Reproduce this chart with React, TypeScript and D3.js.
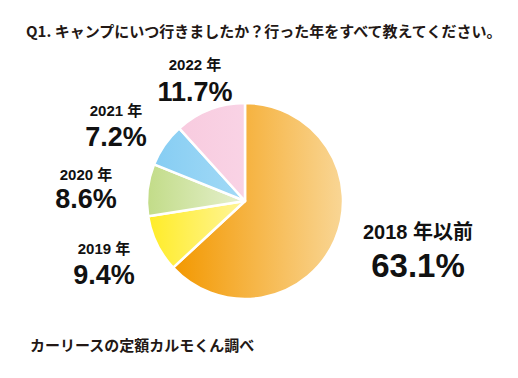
import React from "react";
import * as d3 from "d3";

const categories = ["2018 年以前", "2019 年", "2020 年", "2021 年", "2022 年"];
const values = [63.1, 9.4, 8.6, 7.2, 11.7];
const valueLabels = ["63.1%", "9.4%", "8.6%", "7.2%", "11.7%"];
const gradStops = [
  ["#f39800", "#f9d695"],
  ["#ffec27", "#fff59a"],
  ["#c2dc88", "#e6f0cf"],
  ["#86cdf3", "#a3daf6"],
  ["#f8cbdf", "#f9d3e5"],
];
const title = "Q1. キャンプにいつ行きましたか？行った年をすべて教えてください。";
const source = "カーリースの定額カルモくん調べ";

// label anchor positions (center x, year baseline, value baseline, sizes)
const labelPos = [
  { x: 418, y1: 239, y2: 277, s1: 20, s2: 33 },
  { x: 104, y1: 254, y2: 284, s1: 15, s2: 27 },
  { x: 86, y1: 180, y2: 208, s1: 15, s2: 27 },
  { x: 116, y1: 116, y2: 146, s1: 15, s2: 27 },
  { x: 195, y1: 70, y2: 101, s1: 15, s2: 27 },
];

export default function App() {
  const W = 518, H = 378;
  const cx = 245, cy = 201, r = 98;
  const pie = d3.pie<number>().sort(null).value((d) => d)(values);
  const arc = d3.arc<d3.PieArcDatum<number>>().innerRadius(0).outerRadius(r);
  const numFont = "'Liberation Sans', Arial, 'Noto Sans CJK JP', sans-serif";
  const jpFont = "'Noto Sans CJK JP', sans-serif";
  return (
    <svg width={W} height={H} style={{ position: "absolute", left: 0, top: 0, background: "#fff" }}>
      <defs>
        {gradStops.map((g, i) => (
          <linearGradient key={i} id={`g${i}`} x1="0" y1="0" x2="1" y2="0">
            <stop offset="0" stopColor={g[0]} />
            <stop offset="1" stopColor={g[1]} />
          </linearGradient>
        ))}
      </defs>
      <rect width={W} height={H} fill="#fff" />
      <text x={26} y={37} fontFamily={jpFont} fontWeight={700} fontSize={15} fill="#231815">
        {title}
      </text>
      <g transform={`translate(${cx},${cy})`}>
        {pie.map((p, i) => (
          <path key={i} d={arc(p) || ""} fill={`url(#g${i})`} stroke="#fff" strokeWidth={2.5} strokeLinejoin="round" />
        ))}
      </g>
      {labelPos.map((l, i) => (
        <g key={i} fill="#111">
          <text x={l.x} y={l.y1} textAnchor="middle" fontFamily={numFont} fontWeight={700} fontSize={l.s1}>
            {categories[i]}
          </text>
          <text x={l.x} y={l.y2} textAnchor="middle" fontFamily={numFont} fontWeight={700} fontSize={l.s2}>
            {valueLabels[i]}
          </text>
        </g>
      ))}
      <text x={30} y={351} fontFamily={jpFont} fontWeight={700} fontSize={15} fill="#231815">
        {source}
      </text>
    </svg>
  );
}
